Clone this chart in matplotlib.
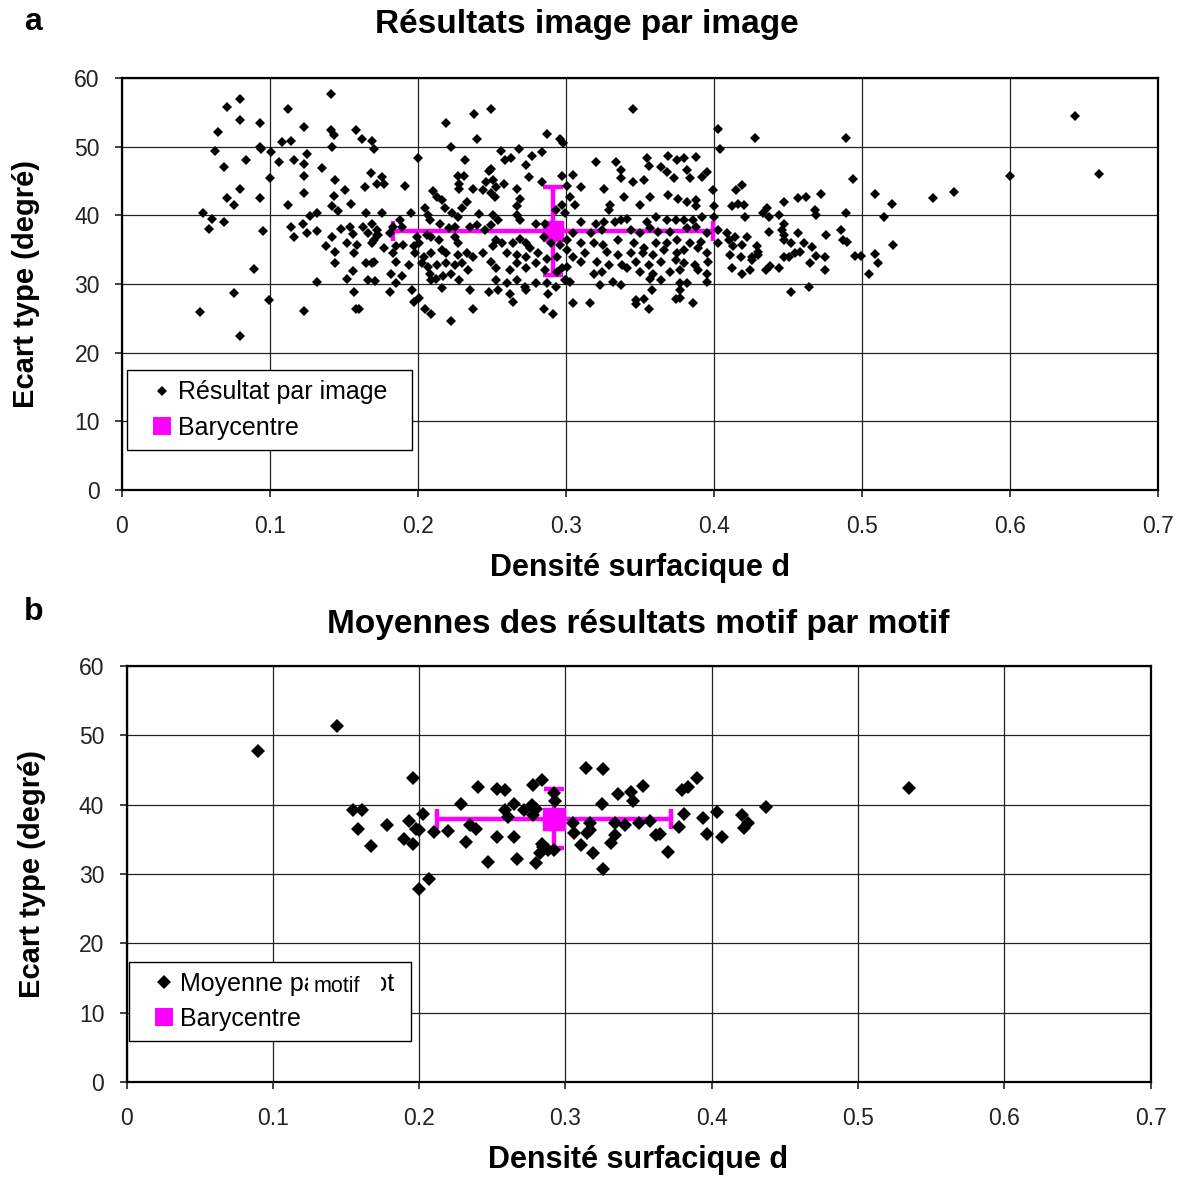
import matplotlib

matplotlib.use("Agg")
import matplotlib.pyplot as plt
from matplotlib.lines import Line2D
from matplotlib.patches import Rectangle

plt.rcParams["font.family"] = ["Liberation Sans", "DejaVu Sans"]

# (densité surfacique d, écart type en degrés), une paire par image
image_results = [
    (0.141, 57.6), (0.080, 56.9), (0.071, 55.8), (0.112, 55.5), (0.080, 53.9), (0.093, 53.4),
    (0.123, 52.9), (0.141, 52.5), (0.143, 51.7), (0.158, 52.4), (0.065, 52.1), (0.162, 51.1),
    (0.169, 50.8), (0.170, 49.6), (0.108, 50.7), (0.114, 50.8), (0.142, 50.0), (0.063, 49.4),
    (0.093, 49.9), (0.094, 49.6), (0.101, 49.2), (0.084, 48.1), (0.106, 47.8), (0.116, 48.1),
    (0.123, 47.5), (0.125, 49.0), (0.069, 47.1), (0.135, 46.9), (0.123, 45.7), (0.100, 45.5),
    (0.144, 45.2), (0.168, 46.2), (0.172, 44.5), (0.164, 44.1), (0.151, 43.7), (0.080, 43.8),
    (0.123, 43.2), (0.143, 42.8), (0.071, 42.5), (0.093, 42.5), (0.076, 41.5), (0.112, 41.5),
    (0.142, 41.3), (0.155, 41.7), (0.146, 40.6), (0.055, 40.4), (0.127, 39.9), (0.132, 40.4),
    (0.165, 40.4), (0.061, 39.4), (0.069, 39.1), (0.122, 38.7), (0.114, 38.3), (0.059, 38.0),
    (0.095, 37.7), (0.132, 37.7), (0.125, 37.4), (0.116, 36.9), (0.148, 38.0), (0.154, 38.3),
    (0.142, 36.9), (0.156, 37.3), (0.163, 38.3), (0.166, 37.4), (0.172, 37.1), (0.152, 35.9),
    (0.138, 35.6), (0.159, 35.7), (0.169, 35.9), (0.144, 34.7), (0.157, 34.5), (0.144, 33.1),
    (0.165, 33.1), (0.169, 33.1), (0.089, 32.2), (0.156, 31.9), (0.152, 30.8), (0.166, 30.6),
    (0.171, 30.5), (0.132, 30.3), (0.076, 28.7), (0.157, 28.9), (0.099, 27.7), (0.053, 25.9),
    (0.123, 26.1), (0.158, 26.3), (0.160, 26.3), (0.080, 22.4),
    (0.249, 55.5), (0.238, 54.7), (0.219, 53.5), (0.240, 51.1), (0.287, 51.8), (0.296, 51.1),
    (0.298, 50.5), (0.222, 49.9), (0.200, 48.4), (0.256, 49.3), (0.268, 49.6), (0.277, 48.7),
    (0.284, 49.2), (0.259, 48.0), (0.263, 48.4), (0.232, 48.1), (0.273, 47.3), (0.249, 46.8),
    (0.248, 46.4), (0.227, 45.7), (0.231, 45.7), (0.275, 45.6), (0.176, 45.6), (0.177, 44.5),
    (0.191, 44.2), (0.228, 44.6), (0.228, 43.9), (0.237, 43.9), (0.246, 44.9), (0.251, 45.1),
    (0.253, 44.1), (0.258, 44.5), (0.244, 43.7), (0.249, 43.2), (0.252, 42.6), (0.267, 43.9),
    (0.284, 44.9), (0.297, 45.8), (0.301, 44.2), (0.210, 43.5), (0.213, 42.7), (0.216, 42.2),
    (0.218, 41.0), (0.233, 42.0), (0.230, 41.1), (0.269, 42.4), (0.267, 41.4), (0.205, 41.0),
    (0.207, 40.0), (0.208, 39.3), (0.195, 40.3), (0.176, 40.3), (0.169, 38.8), (0.172, 37.8),
    (0.170, 36.4), (0.173, 37.1), (0.188, 39.3), (0.189, 38.3), (0.181, 37.4), (0.183, 38.3),
    (0.223, 40.3), (0.227, 39.8), (0.241, 40.2), (0.251, 40.0), (0.254, 39.3), (0.267, 40.0),
    (0.269, 39.3), (0.280, 38.8), (0.286, 38.8), (0.293, 40.8), (0.297, 41.5), (0.299, 40.3),
    (0.215, 38.8), (0.221, 38.1), (0.225, 38.3), (0.235, 38.3), (0.240, 38.6), (0.245, 37.8),
    (0.249, 38.6), (0.199, 36.9), (0.201, 35.9), (0.206, 37.1), (0.209, 36.9), (0.214, 36.4),
    (0.225, 36.9), (0.227, 35.9), (0.253, 36.4), (0.257, 35.9), (0.251, 35.5), (0.264, 35.9),
    (0.269, 36.6), (0.273, 35.9), (0.276, 35.2), (0.285, 36.9), (0.290, 35.9), (0.296, 35.7),
    (0.301, 36.4), (0.177, 35.2), (0.185, 35.5), (0.190, 35.7), (0.197, 35.5), (0.183, 34.5),
    (0.185, 33.2), (0.198, 34.5), (0.204, 34.0), (0.209, 34.5), (0.216, 34.9), (0.219, 34.5),
    (0.227, 34.2), (0.233, 34.5), (0.237, 34.0), (0.244, 34.5), (0.260, 34.5), (0.267, 34.2),
    (0.273, 34.0), (0.281, 34.5), (0.287, 33.7), (0.294, 34.0), (0.170, 33.2), (0.194, 32.8),
    (0.203, 33.0), (0.207, 32.5), (0.213, 32.8), (0.219, 33.0), (0.225, 32.8), (0.230, 33.0),
    (0.249, 33.2), (0.253, 32.3), (0.262, 32.0), (0.267, 33.0), (0.273, 32.3), (0.280, 33.0),
    (0.286, 32.0), (0.294, 31.8), (0.297, 32.3), (0.182, 31.5), (0.189, 31.1), (0.208, 31.5),
    (0.212, 30.8), (0.217, 31.1), (0.222, 31.5), (0.228, 30.6), (0.234, 32.0), (0.185, 30.1),
    (0.209, 30.6), (0.253, 30.6), (0.260, 30.1), (0.267, 30.6), (0.272, 29.6), (0.280, 30.1),
    (0.287, 30.1), (0.293, 29.6), (0.299, 30.6), (0.181, 28.9), (0.196, 29.1), (0.216, 29.4),
    (0.235, 29.1), (0.248, 28.9), (0.254, 29.1), (0.262, 28.6), (0.273, 29.1), (0.288, 28.6),
    (0.197, 27.4), (0.201, 27.9), (0.205, 26.4), (0.209, 25.7), (0.237, 26.3), (0.264, 27.4),
    (0.285, 26.3), (0.291, 25.7), (0.222, 24.6),
    (0.345, 55.5), (0.403, 52.6), (0.428, 51.3), (0.404, 49.7), (0.320, 47.7), (0.334, 47.8),
    (0.337, 46.6), (0.337, 45.5), (0.355, 48.3), (0.356, 47.2), (0.364, 47.0), (0.368, 46.3),
    (0.369, 48.7), (0.375, 48.0), (0.380, 48.3), (0.388, 48.5), (0.373, 45.5), (0.382, 46.6),
    (0.384, 45.5), (0.392, 45.6), (0.395, 46.3), (0.305, 45.9), (0.345, 44.9), (0.353, 45.1),
    (0.310, 44.1), (0.326, 43.8), (0.339, 42.7), (0.357, 42.7), (0.369, 42.9), (0.376, 42.4),
    (0.382, 42.0), (0.388, 42.2), (0.388, 41.3), (0.399, 43.7), (0.400, 41.3), (0.350, 41.5),
    (0.330, 41.5), (0.329, 40.8), (0.303, 42.7), (0.306, 41.5), (0.415, 43.7), (0.419, 44.4),
    (0.412, 41.3), (0.416, 41.7), (0.420, 41.5), (0.421, 39.8), (0.310, 39.1), (0.320, 38.8),
    (0.326, 39.1), (0.333, 39.1), (0.337, 39.3), (0.341, 39.4), (0.355, 39.1), (0.361, 39.8),
    (0.368, 39.3), (0.374, 39.3), (0.380, 39.3), (0.386, 39.3), (0.392, 39.8), (0.400, 39.8),
    (0.357, 38.1), (0.362, 37.6), (0.370, 37.6), (0.382, 38.1), (0.388, 38.3), (0.395, 37.4),
    (0.403, 37.8), (0.409, 37.4), (0.414, 36.9), (0.422, 36.9), (0.305, 37.4), (0.317, 37.4),
    (0.324, 37.8), (0.335, 36.4), (0.344, 37.8), (0.350, 37.4), (0.310, 35.9), (0.319, 35.9),
    (0.325, 35.7), (0.346, 35.9), (0.353, 35.2), (0.361, 35.9), (0.368, 35.9), (0.375, 36.4),
    (0.384, 35.9), (0.391, 36.1), (0.403, 35.9), (0.410, 36.4), (0.413, 35.5), (0.419, 35.7),
    (0.429, 35.5), (0.301, 34.9), (0.305, 34.0), (0.313, 34.5), (0.328, 34.7), (0.335, 34.2),
    (0.344, 34.5), (0.352, 34.5), (0.359, 34.2), (0.366, 34.9), (0.375, 34.5), (0.380, 34.9),
    (0.389, 35.2), (0.395, 34.5), (0.411, 34.2), (0.418, 34.0), (0.426, 34.0), (0.301, 32.5),
    (0.310, 33.2), (0.321, 33.2), (0.329, 32.8), (0.338, 32.8), (0.347, 33.2), (0.356, 32.8),
    (0.364, 33.2), (0.374, 33.5), (0.380, 33.0), (0.387, 32.8), (0.396, 33.2), (0.412, 32.3),
    (0.419, 31.5), (0.424, 32.0), (0.319, 31.5), (0.324, 31.8), (0.341, 32.3), (0.350, 31.8),
    (0.359, 31.5), (0.370, 31.8), (0.377, 32.0), (0.389, 32.0), (0.395, 31.5), (0.300, 30.6),
    (0.303, 30.3), (0.323, 29.8), (0.332, 30.3), (0.337, 29.8), (0.357, 30.7), (0.364, 30.6),
    (0.377, 30.1), (0.382, 30.1), (0.395, 30.3), (0.358, 29.1), (0.377, 29.1), (0.305, 27.3),
    (0.316, 27.3), (0.347, 27.7), (0.347, 27.1), (0.353, 27.8), (0.356, 26.3), (0.374, 27.8),
    (0.377, 27.9), (0.386, 27.2),
    (0.489, 51.3), (0.494, 45.3), (0.447, 42.0), (0.457, 42.5), (0.462, 42.7), (0.472, 43.1),
    (0.509, 43.1), (0.520, 41.7), (0.548, 42.5), (0.436, 41.0), (0.433, 40.3), (0.437, 39.8),
    (0.444, 40.1), (0.468, 40.8), (0.469, 40.0), (0.489, 40.4), (0.515, 39.8), (0.447, 38.7),
    (0.446, 37.8), (0.447, 37.1), (0.447, 36.4), (0.437, 37.6), (0.457, 37.5), (0.476, 37.1),
    (0.486, 37.8), (0.487, 36.4), (0.490, 36.1), (0.452, 35.9), (0.461, 35.9), (0.466, 35.4),
    (0.521, 35.7), (0.430, 34.7), (0.430, 34.2), (0.426, 33.5), (0.447, 34.0), (0.451, 34.0),
    (0.455, 34.5), (0.458, 34.6), (0.469, 34.1), (0.475, 33.9), (0.465, 33.1), (0.495, 34.1),
    (0.499, 34.1), (0.509, 34.4), (0.511, 33.1), (0.435, 32.0), (0.438, 32.6), (0.444, 32.4),
    (0.475, 32.1), (0.505, 31.5), (0.452, 28.9), (0.464, 29.6),
    (0.644, 54.4), (0.600, 45.7), (0.660, 46.0), (0.562, 43.4),
]

# (densité surfacique d, écart type en degrés), moyenne par motif
motif_means = [
    (0.090, 47.8), (0.144, 51.3), (0.196, 43.8), (0.155, 39.3), (0.161, 39.3), (0.158, 36.5),
    (0.167, 34.0), (0.178, 37.0), (0.190, 35.1), (0.193, 37.7), (0.196, 34.3), (0.198, 36.5),
    (0.200, 36.3), (0.203, 38.6), (0.210, 36.1), (0.207, 29.3), (0.200, 27.9), (0.220, 36.2),
    (0.229, 40.1), (0.232, 34.6), (0.235, 37.0), (0.239, 36.5), (0.240, 42.5), (0.247, 31.7),
    (0.253, 35.3), (0.253, 42.3), (0.259, 42.1), (0.259, 39.2), (0.261, 38.2), (0.265, 40.1),
    (0.265, 35.4), (0.267, 32.1), (0.272, 39.2), (0.278, 42.9), (0.284, 43.5), (0.277, 39.9),
    (0.280, 39.4), (0.278, 38.5), (0.280, 31.6), (0.283, 33.0), (0.285, 33.9), (0.288, 33.4),
    (0.284, 34.3), (0.292, 41.7), (0.293, 40.6), (0.292, 33.5), (0.305, 37.3), (0.306, 35.9),
    (0.311, 34.2), (0.314, 45.3), (0.317, 37.3), (0.317, 36.3), (0.315, 35.9), (0.319, 33.0),
    (0.325, 40.1), (0.326, 45.1), (0.326, 30.7), (0.331, 34.4), (0.334, 35.6), (0.334, 37.3),
    (0.336, 41.5), (0.341, 37.1), (0.345, 41.8), (0.346, 40.5), (0.350, 37.3), (0.353, 42.7),
    (0.358, 37.7), (0.362, 35.6), (0.365, 35.8), (0.370, 33.2), (0.380, 42.1), (0.384, 42.5),
    (0.390, 43.8), (0.381, 38.6), (0.378, 36.8), (0.394, 38.1), (0.397, 35.8), (0.404, 39.0),
    (0.407, 35.3), (0.421, 38.5), (0.425, 37.4), (0.422, 36.6), (0.437, 39.6), (0.535, 42.4),
]

# barycentres (d, écart type) et demi-largeurs des barres d'erreur
image_centre = (0.291, 37.7)
image_centre_err = (0.108, 6.4)
motif_centre = (0.2925, 38.0)
motif_centre_err = (0.080, 4.2)

x_ticks = [0, 0.1, 0.2, 0.3, 0.4, 0.5, 0.6, 0.7]
x_tick_labels = ["0", "0.1", "0.2", "0.3", "0.4", "0.5", "0.6", "0.7"]
y_ticks = [0, 10, 20, 30, 40, 50, 60]

MAGENTA = "#FF00FF"
W, H = 1185, 1180


def _draw_panel(ax, points, centre, err, point_size, centre_size, point_label, legend_x):
    ax.errorbar(
        centre[0], centre[1], xerr=err[0], yerr=err[1],
        fmt="s", color=MAGENTA, ms=centre_size, elinewidth=3.2,
        capsize=7, capthick=3.2, zorder=2,
    )
    xs = [p[0] for p in points]
    ys = [p[1] for p in points]
    ax.plot(xs, ys, "D", color="black", ms=point_size, mew=0, linestyle="none", zorder=3)

    ax.set_xlim(0, 0.7)
    ax.set_ylim(0, 60)
    ax.set_xticks(x_ticks)
    ax.set_xticklabels(x_tick_labels)
    ax.set_yticks(y_ticks)
    ax.grid(True, color="#222222", linewidth=0.9)
    ax.set_axisbelow(True)
    for spine in ax.spines.values():
        spine.set_linewidth(1.6)
        spine.set_color("black")
    ax.tick_params(direction="out", length=5, width=1.2, labelsize=16.5, colors="#222222")
    ax.tick_params(axis="x", pad=13)
    ax.tick_params(axis="y", pad=11)
    ax.set_xlabel("Densité surfacique d", fontsize=22, fontweight="bold")
    ax.set_ylabel("Ecart type (degré)", fontsize=21, fontweight="bold")
    ax.xaxis.set_label_coords(0.5, -0.152)
    ax.yaxis.set_label_coords(-0.079, 0.5)

    handles = [
        Line2D([], [], marker="D", color="black", ms=point_size * 0.95, mew=0, linestyle="none"),
        Line2D([], [], marker="s", color=MAGENTA, ms=13, mew=0, linestyle="none"),
    ]
    leg = ax.legend(
        handles, [point_label, "Barycentre"], loc="lower left",
        bbox_to_anchor=(legend_x, 0.098), borderaxespad=0, fontsize=18, frameon=True,
        fancybox=False, handlelength=2.0, handletextpad=-0.35, borderpad=0.4,
        labelspacing=0.45, framealpha=1,
    )
    leg.get_frame().set_edgecolor("black")
    leg.get_frame().set_linewidth(1.0)


fig = plt.figure(figsize=(W / 100, H / 100), dpi=100)
ax_a = fig.add_axes([122 / W, 1 - 490 / H, 1036 / W, 412 / H])
ax_b = fig.add_axes([126.5 / W, 1 - 1082 / H, 1024 / W, 416 / H])

_draw_panel(ax_a, image_results, image_centre, image_centre_err, 5.2, 14,
            "Résultat par image  ", 0.005)
# la fin du libellé d'origine est cachée sous l'étiquette « motif »
_draw_panel(ax_b, motif_means, motif_centre, motif_centre_err, 7.5, 16,
            "Moyenne par    plot ", 0.002)

fig.text(587 / W, 1 - 24 / H, "Résultats image par image",
         fontsize=24, fontweight="bold", ha="center", va="center")
fig.text(638 / W, 1 - 625 / H, "Moyennes des résultats motif par motif",
         fontsize=24, fontweight="bold", ha="center", va="center")
fig.text(24 / W, 1 - 22 / H, "a", fontsize=23, fontweight="bold", va="center", ha="left")
fig.text(24 / W, 1 - 612 / H, "b", fontsize=23, fontweight="bold", va="center", ha="left")

# étiquette collée par-dessus la légende du bas
fig.add_artist(Rectangle((308 / W, 1 - 1000 / H), 73 / W, 31 / H, transform=fig.transFigure,
                         facecolor="white", edgecolor="none", zorder=8))
fig.text(337 / W, 1 - 986 / H, "motif", fontsize=15.5, ha="center", va="center", zorder=10)

fig.savefig("out.png", dpi=100)
